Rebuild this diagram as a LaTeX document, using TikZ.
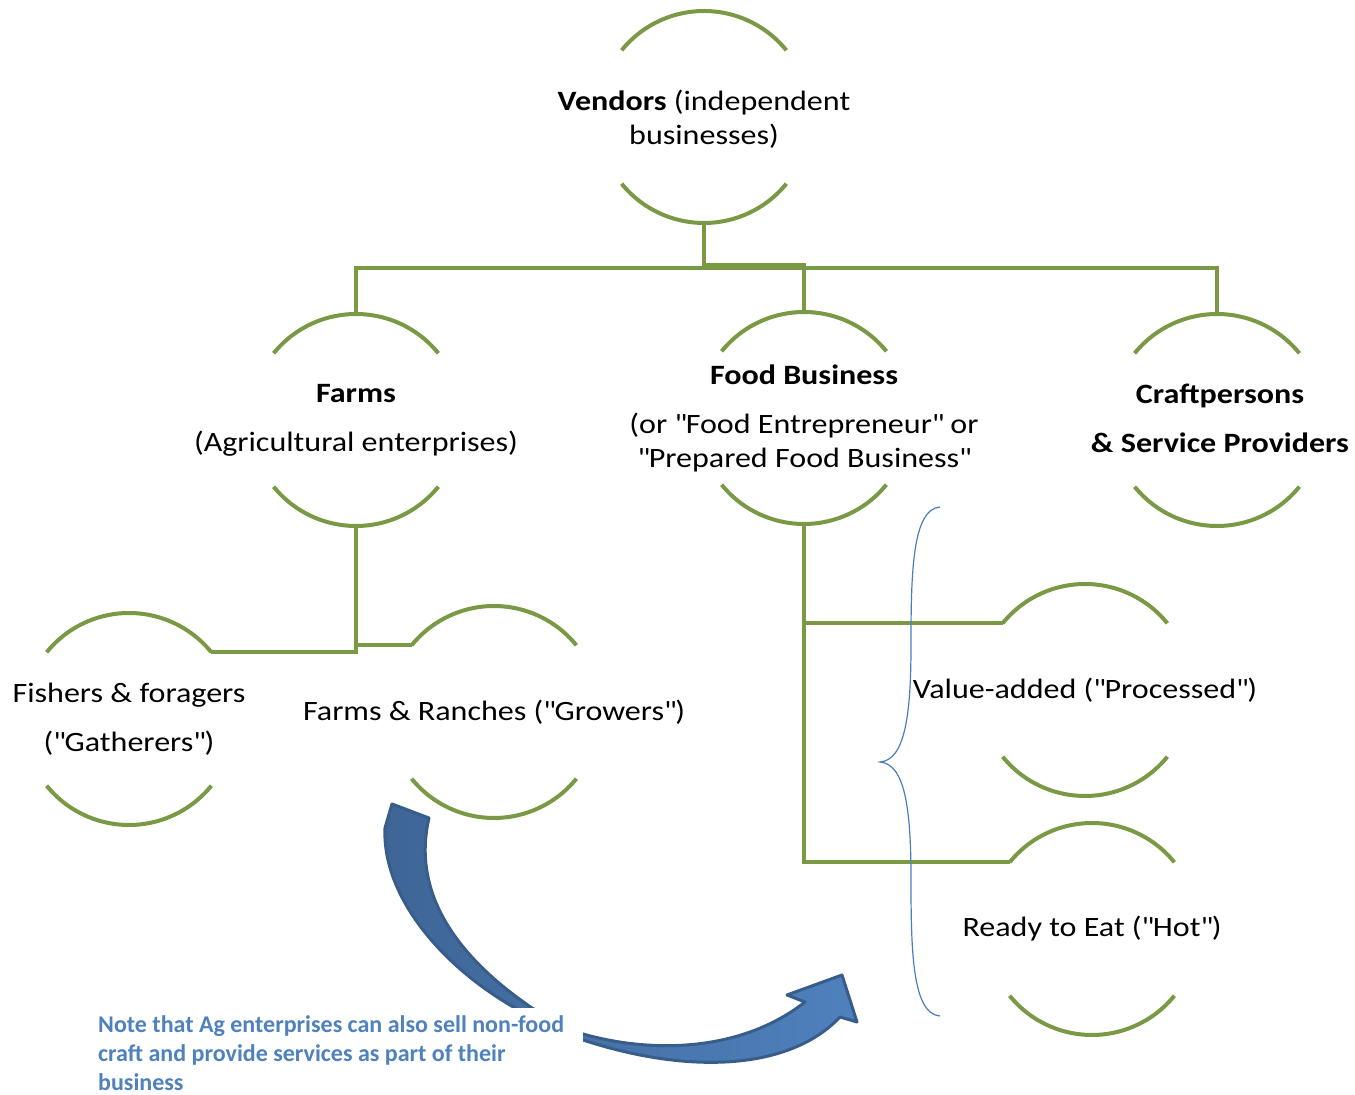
\documentclass[tikz,border=0pt]{standalone}
\usepackage{fontspec}
\setmainfont{Carlito}
\newfontfamily\breit{Carlito}[FakeStretch=1.145]
\usepackage{xcolor}
\usepackage{tikz}
\definecolor{oliv}{RGB}{122,153,68}
\definecolor{hellblau}{RGB}{79,129,189}
\definecolor{dunkelblau}{RGB}{56,93,138}
\definecolor{pfeilblau}{RGB}{62,101,150}
\definecolor{klammerblau}{RGB}{74,126,187}
\newcommand{\qd}{\textquotedbl}
\tikzset{
  Kreis/.style={circle, minimum size=212pt, inner sep=0pt, outer sep=0pt}, % unsichtbarer Kreis
  Bogen/.style={draw=oliv, line width=4pt}, % Kreisboegen
  Leitung/.style={draw=oliv, line width=4pt}, % Verbindungslinien
  Text/.style={align=center, font=\breit\fontsize{28}{34}\selectfont}, % Beschriftung
  Notiz/.style={align=left, text=hellblau, font=\fontsize{24}{29}\selectfont\bfseries}, % Hinweis
  Klammer/.style={draw=klammerblau, line width=1.2pt}, % geschweifte Klammer
  Pfeil/.style={draw=dunkelblau, line width=3pt, line join=round, left color=pfeilblau, right color=hellblau} % Blockpfeil
}

\begin{document}
\begin{tikzpicture}[x=1pt, y=1pt, >=latex]
\useasboundingbox (0,0) rectangle (1355,1095);

%Kreise
\node[Kreis] (V)  at (704,978) {};
\node[Kreis] (F)  at (356,675) {};
\node[Kreis] (FB) at (804,677) {};
\node[Kreis] (C)  at (1217,675) {};
\node[Kreis] (FG) at (129,376) {};
\node[Kreis] (FR) at (494,383) {};
\node[Kreis] (VA) at (1085,405) {};
\node[Kreis] (RE) at (1092,166) {};

%Beschriftungen
\node[Text] (V-t)  at ([yshift=-2pt]V)  {\textbf{Vendors} (independent\\businesses)};
\node[Text] (F-t)  at (F)  {\textbf{Farms}\\[15pt](Agricultural enterprises)};
\node[Text] (FB-t) at (FB) {\textbf{Food Business}\\[15pt](or \qd Food Entrepreneur\qd{} or\\\qd Prepared Food Business\qd};
\node[Text] (C-t)  at ([xshift=3pt,yshift=2pt]C) {\textbf{Craftpersons}\\[15pt]\textbf{\& Service Providers}};
\node[Text] (FG-t) at (FG) {Fishers \& foragers\\[15pt](\qd Gatherers\qd)};
\node[Text] (FR-t) at (FR) {Farms \& Ranches (\qd Growers\qd)};
\node[Text] (VA-t) at (VA) {Value-added (\qd Processed\qd)};
\node[Text] (RE-t) at (RE) {Ready to Eat (\qd Hot\qd)};

%Kreisboegen
\foreach \k in {V,F,FB,C,FG,FR,VA,RE}{%
  \draw[Bogen] (\k.39) arc[start angle=39, end angle=141, radius=106pt];
  \draw[Bogen] (\k.219) arc[start angle=219, end angle=321, radius=106pt];
}

%Leitungen
\draw[Leitung] (V.south) -- ++(0,-45) -| (F.north);
\draw[Leitung] (V.south) -- ++(0,-45) -| (C.north);
\draw[Leitung] (V.south) -- ++(0,-42) -| (FB.north);
\draw[Leitung] (F.south) |- (FG.39);
\draw[Leitung] (F.south) |- (FR.141);
\draw[Leitung] (FB.south) |- (VA.141);
\draw[Leitung] (FB.south) |- (RE.141);

%Klammer
\coordinate (K-o) at (940,588);
\coordinate (K-s) at (880,333);
\coordinate (K-u) at (940,79);
\draw[Klammer] (K-o) .. controls (912,586) and (911,520) .. (911,450)
  .. controls (911,380) and (905,335) .. (K-s)
  .. controls (905,331) and (911,286) .. (911,216)
  .. controls (911,146) and (912,81) .. (K-u);

%Pfeil
\draw[Pfeil] (392,291) -- (429,277)
  .. controls (418,230) and (425,160) .. (532,87)
  .. controls (550,76) and (565,68) .. (583,61)
  .. controls (650,42) and (740,42) .. (805,93)
  -- (787,100) -- (842,120) -- (857,73) -- (840,78)
  .. controls (790,25) and (690,20) .. (583,55)
  .. controls (560,65) and (535,78) .. (515,87)
  .. controls (440,130) and (382,200) .. (385,267)
  -- cycle;

%Hinweis
\node[fill=white, anchor=south west, minimum width=493pt, minimum height=87pt, inner sep=0pt] (Abdeckung) at (90,0) {};
\node[Notiz, anchor=north west, inner sep=0pt] (Hinweis) at (98,80)
  {Note that Ag enterprises can also sell non-food\\craft and provide services as part of their\\business};

\end{tikzpicture}
\end{document}
